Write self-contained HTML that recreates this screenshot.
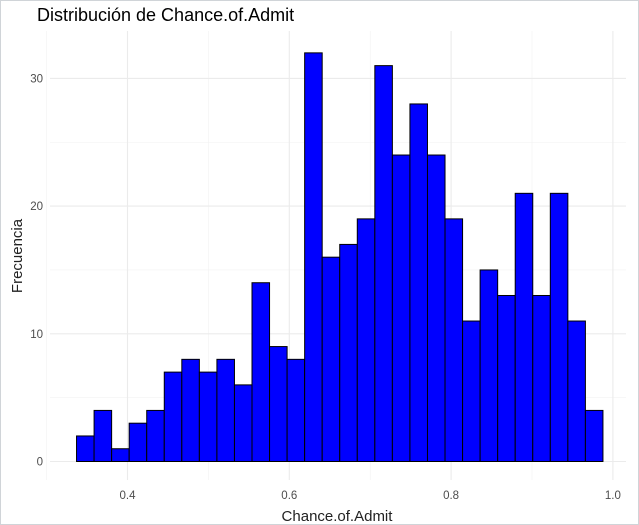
<!DOCTYPE html>
<html><head><meta charset="utf-8"><style>
body{margin:0;background:#fff;}
svg{display:block;font-family:"Liberation Sans",Arial,sans-serif;}
</style></head><body>
<svg id="chart" width="639" height="525">
<rect x="0" y="0" width="639" height="525" fill="#fff" stroke="#d0d4d8" stroke-width="2"/>
<g id="grid"></g><g id="bars"></g><g id="axes"></g>
<text x="37" y="21" font-size="18" fill="#000">Distribución de Chance.of.Admit</text>
<text x="337" y="521" font-size="15" fill="#222" text-anchor="middle">Chance.of.Admit</text>
<text transform="translate(22,256) rotate(-90)" font-size="15" fill="#222" text-anchor="middle">Frecuencia</text>
</svg>
<script>
const counts=[2,4,1,3,4,7,8,7,8,6,14,9,8,32,16,17,19,31,24,28,24,19,11,15,13,21,13,21,11,4];
const binStart=0.337;
const binWidth=0.02169;
const xTicks=[0.4,0.6,0.8,1.0];
const xTickLabels=["0.4","0.6","0.8","1.0"];
const xMinor=[0.3,0.5,0.7,0.9];
const yTicks=[0,10,20,30];
const yMinor=[5,15,25];
const NS="http://www.w3.org/2000/svg";
const xs=v=>127.5+(v-0.4)*809;
const ys=v=>461.5-v*12.77;
const L=50,R=626,T=31,B=480;
function mk(tag,attrs,parent){const e=document.createElementNS(NS,tag);for(const k in attrs)e.setAttribute(k,attrs[k]);parent.appendChild(e);return e;}
const grid=document.getElementById('grid'),bars=document.getElementById('bars'),axes=document.getElementById('axes');
yMinor.forEach(v=>{const l=mk('line',{x1:L,x2:R,y1:ys(v),y2:ys(v),stroke:'#f2f2f2','stroke-width':0.6},grid);

});
xMinor.forEach(v=>{const l=mk('line',{x1:xs(v),x2:xs(v),y1:T,y2:B,stroke:'#f2f2f2','stroke-width':0.6},grid);

});
yTicks.forEach(v=>{const l=mk('line',{x1:L,x2:R,y1:ys(v),y2:ys(v),stroke:'#ebebeb','stroke-width':1.1},grid);


const t=mk('text',{x:43,y:ys(v)+4,'font-size':11.5,fill:'#4d4d4d','text-anchor':'end'},axes);t.textContent=v;

});
xTicks.forEach((v,i)=>{const l=mk('line',{x1:xs(v),x2:xs(v),y1:T,y2:B,stroke:'#ebebeb','stroke-width':1.1},grid);


const t=mk('text',{x:xs(v),y:499,'font-size':11.5,fill:'#4d4d4d','text-anchor':'middle'},axes);t.textContent=xTickLabels[i];

});
counts.forEach((c,i)=>{const x0=xs(binStart+i*binWidth),x1=xs(binStart+(i+1)*binWidth);
const r=mk('rect',{x:x0,y:ys(c),width:x1-x0,height:ys(0)-ys(c),fill:'#0000ff',stroke:'#000','stroke-width':1},bars);

});
</script>
</body></html>
